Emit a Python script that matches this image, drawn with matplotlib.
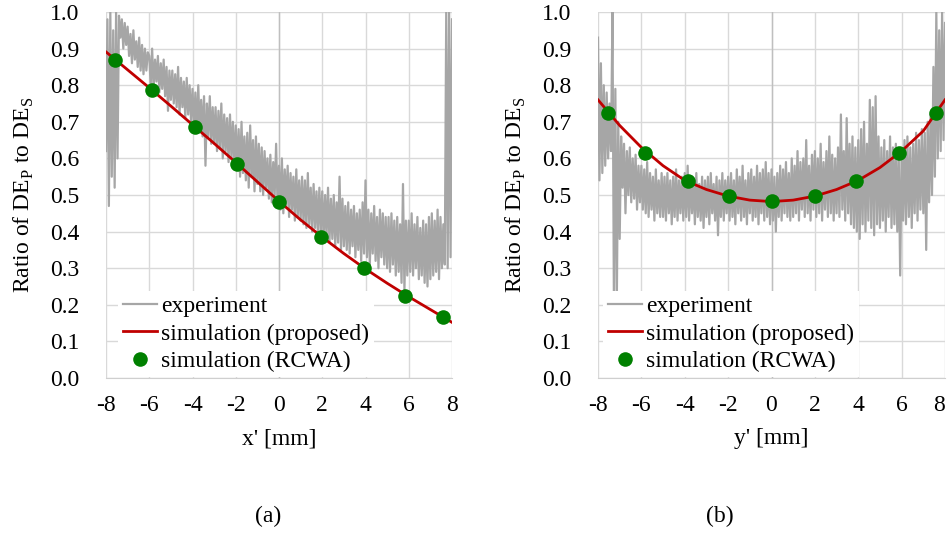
import numpy as np
import matplotlib
matplotlib.use("Agg")
import matplotlib.pyplot as plt

plt.rcParams['font.family'] = ['Liberation Serif', 'DejaVu Serif']
plt.rcParams['mathtext.fontset'] = 'custom'
plt.rcParams['mathtext.rm'] = 'Liberation Serif'
plt.rcParams['font.size'] = 17

# ---- data ----
# experiment (a): ratio vs x', samples evenly spaced from -8 to 8 mm
exp_a = [
    0.62, 0.98, 0.47, 1.00, 0.55, 0.95, 0.52, 1.00, 0.60, 0.99, 0.93, 0.98, 0.90, 0.97, 0.91,  # -8..-7
    0.96, 0.88, 0.94, 0.86, 0.95, 0.87, 0.92, 0.85, 0.93, 0.84, 0.91, 0.83, 0.90, 0.84, 0.89,  # -7..-6
    0.88, 0.80, 0.90, 0.79, 0.87, 0.81, 0.88, 0.78, 0.86, 0.79, 0.87, 0.77, 0.85, 0.73, 0.84,  # -6..-5
    0.76, 0.84, 0.75, 0.83, 0.74, 0.85, 0.72, 0.82, 0.74, 0.81, 0.71, 0.82, 0.72, 0.80, 0.70,  # -5..-4
    0.79, 0.69, 0.78, 0.67, 0.80, 0.68, 0.76, 0.66, 0.77, 0.58, 0.75, 0.66, 0.77, 0.64, 0.74,  # -4..-3
    0.64, 0.74, 0.62, 0.73, 0.63, 0.75, 0.60, 0.72, 0.62, 0.71, 0.59, 0.72, 0.60, 0.70, 0.58,  # -3..-2
    0.69, 0.57, 0.68, 0.55, 0.70, 0.56, 0.66, 0.54, 0.67, 0.52, 0.69, 0.55, 0.65, 0.51, 0.66,  # -2..-1
    0.53, 0.64, 0.51, 0.63, 0.50, 0.62, 0.52, 0.60, 0.49, 0.61, 0.48, 0.59, 0.50, 0.64, 0.47,  # -1..0
    0.58, 0.46, 0.60, 0.45, 0.57, 0.47, 0.58, 0.44, 0.56, 0.46, 0.55, 0.43, 0.57, 0.44, 0.54,  # 0..1
    0.43, 0.55, 0.42, 0.54, 0.41, 0.56, 0.42, 0.52, 0.40, 0.53, 0.41, 0.51, 0.39, 0.52, 0.40,  # 1..2
    0.51, 0.38, 0.50, 0.39, 0.52, 0.37, 0.49, 0.38, 0.50, 0.36, 0.48, 0.37, 0.55, 0.35, 0.49,  # 2..3
    0.36, 0.47, 0.35, 0.48, 0.34, 0.46, 0.36, 0.47, 0.33, 0.45, 0.35, 0.46, 0.32, 0.48, 0.34,  # 3..4
    0.54, 0.33, 0.46, 0.31, 0.45, 0.34, 0.47, 0.32, 0.44, 0.30, 0.46, 0.33, 0.45, 0.31, 0.44,  # 4..5
    0.30, 0.44, 0.29, 0.45, 0.31, 0.43, 0.28, 0.44, 0.29, 0.42, 0.26, 0.53, 0.24, 0.43, 0.28,  # 5..6
    0.43, 0.29, 0.45, 0.28, 0.42, 0.30, 0.44, 0.27, 0.41, 0.28, 0.43, 0.26, 0.42, 0.25, 0.44,  # 6..7
    0.27, 0.45, 0.28, 0.43, 0.29, 0.46, 0.27, 0.44, 0.30, 0.42, 0.31, 1.00, 0.30, 1.00, 0.33, 0.98,  # 7..8
]

# experiment (b): ratio vs y'
exp_b = [
    0.93, 0.54, 0.86, 0.56, 0.80, 0.58, 0.78, 0.60, 0.75, 0.62, 1.00, 0.21, 0.79, 0.20, 0.70,  # -8..-7
    0.38, 0.66, 0.52, 0.64, 0.45, 0.62, 0.50, 0.63, 0.48, 0.60, 0.49, 0.61, 0.46, 0.58, 0.48,  # -7..-6
    0.58, 0.46, 0.57, 0.45, 0.59, 0.44, 0.56, 0.46, 0.55, 0.43, 0.57, 0.45, 0.54, 0.44, 0.56,  # -6..-5
    0.44, 0.55, 0.43, 0.56, 0.45, 0.54, 0.42, 0.55, 0.44, 0.57, 0.43, 0.54, 0.45, 0.55, 0.43,  # -5..-4
    0.56, 0.44, 0.58, 0.43, 0.55, 0.45, 0.54, 0.42, 0.56, 0.44, 0.53, 0.43, 0.55, 0.41, 0.54,  # -4..-3
    0.44, 0.55, 0.42, 0.56, 0.45, 0.53, 0.43, 0.55, 0.39, 0.54, 0.44, 0.56, 0.43, 0.54, 0.45,  # -3..-2
    0.55, 0.43, 0.56, 0.44, 0.54, 0.42, 0.57, 0.45, 0.55, 0.43, 0.58, 0.44, 0.54, 0.42, 0.56,  # -2..-1
    0.45, 0.57, 0.43, 0.55, 0.44, 0.58, 0.42, 0.56, 0.45, 0.57, 0.43, 0.59, 0.44, 0.56, 0.42,  # -1..0
    0.57, 0.43, 0.55, 0.40, 0.56, 0.44, 0.58, 0.43, 0.57, 0.45, 0.59, 0.44, 0.56, 0.43, 0.60,  # 0..1
    0.44, 0.58, 0.45, 0.62, 0.43, 0.59, 0.46, 0.60, 0.44, 0.65, 0.45, 0.58, 0.43, 0.61, 0.46,  # 1..2
    0.62, 0.44, 0.60, 0.45, 0.64, 0.43, 0.59, 0.46, 0.62, 0.44, 0.66, 0.45, 0.61, 0.43, 0.60,  # 2..3
    0.45, 0.63, 0.44, 0.72, 0.46, 0.62, 0.43, 0.71, 0.45, 0.64, 0.42, 0.66, 0.41, 0.63, 0.40,  # 3..4
    0.65, 0.38, 0.68, 0.42, 0.70, 0.40, 0.64, 0.43, 0.76, 0.41, 0.74, 0.39, 0.77, 0.42, 0.66,  # 4..5
    0.41, 0.63, 0.43, 0.65, 0.40, 0.62, 0.44, 0.66, 0.41, 0.63, 0.42, 0.64, 0.40, 0.61, 0.28,  # 5..6
    0.62, 0.43, 0.65, 0.42, 0.66, 0.44, 0.63, 0.41, 0.64, 0.45, 0.67, 0.43, 0.65, 0.46, 0.68,  # 6..7
    0.45, 0.67, 0.35, 0.70, 0.48, 0.72, 0.50, 0.85, 0.55, 1.00, 0.60, 0.95, 0.62, 1.00, 0.65, 0.97,  # 7..8
]

# proposed simulation, sampled at integer positions
sim_pos = [-8, -7, -6, -5, -4, -3, -2, -1, 0, 1, 2, 3, 4, 5, 6, 7, 8]
sim_a = [0.891, 0.842, 0.793, 0.743, 0.692, 0.641, 0.589, 0.536, 0.483,
         0.432, 0.385, 0.340, 0.298, 0.259, 0.222, 0.187, 0.152]
sim_b = [0.760, 0.690, 0.630, 0.580, 0.540, 0.515, 0.497, 0.486, 0.482,
         0.486, 0.497, 0.515, 0.540, 0.575, 0.620, 0.675, 0.760]

# RCWA points
rcwa_x_a = [-7.58, -5.86, -3.87, -1.93, 0.01, 1.94, 3.95, 5.84, 7.60]
rcwa_a = [0.869, 0.787, 0.686, 0.584, 0.482, 0.386, 0.300, 0.224, 0.166]
rcwa_x_b = [-7.55, -5.82, -3.85, -1.95, 0.02, 2.00, 3.90, 5.88, 7.60]
rcwa_b = [0.723, 0.616, 0.538, 0.498, 0.484, 0.498, 0.538, 0.616, 0.723]

xticks = [-8, -6, -4, -2, 0, 2, 4, 6, 8]
yticks = [0.0, 0.1, 0.2, 0.3, 0.4, 0.5, 0.6, 0.7, 0.8, 0.9, 1.0]

GRAY = '#a6a6a6'
RED = '#c00000'
GREEN = '#008000'
GRID = '#d9d9d9'

fig = plt.figure(figsize=(9.49, 5.35), dpi=100)
ax1 = fig.add_axes([106 / 949, 1 - 378 / 535, 346 / 949, 366 / 535])
ax2 = fig.add_axes([598 / 949, 1 - 378 / 535, 347 / 949, 366 / 535])


def draw(ax, exp, sim, rx, ry, xlabel, leg_x):
    xe = np.linspace(-8, 8, len(exp))
    ax.plot(xe, exp, color=GRAY, lw=1.6, label='experiment', zorder=3)
    ax.plot(sim_pos, sim, color=RED, lw=2.0, label='simulation (proposed)', zorder=4)
    ax.plot(rx, ry, 'o', color=GREEN, ms=10.5, mew=0, label='simulation (RCWA)', zorder=5)
    ax.axvline(0, color='#bfbfbf', lw=1.0, zorder=1)

    ax.set_xlim(-8, 8)
    ax.set_ylim(0, 1)
    ax.set_xticks(xticks)
    ax.set_xticklabels([str(t) for t in xticks])
    ax.set_yticks(yticks)
    ax.set_yticklabels([f'{t:.1f}' for t in yticks])
    ax.tick_params(length=0, labelsize=17)
    ax.tick_params(axis='y', pad=19)
    ax.tick_params(axis='x', pad=12)
    ax.grid(True, color=GRID, lw=1.0, zorder=0)
    ax.set_axisbelow(True)
    for s in ['top', 'right', 'left']:
        ax.spines[s].set_visible(False)
    ax.spines['bottom'].set_color('#cfcfcf')
    ax.spines['bottom'].set_zorder(7)

    ax.set_xlabel(xlabel, labelpad=9)
    ax.set_ylabel(r'Ratio of DE$_\mathrm{P}$ to DE$_\mathrm{S}$', labelpad=10)

    leg = ax.legend(loc='lower left', bbox_to_anchor=(leg_x, 0.004), borderaxespad=0.0,
                    borderpad=0.2, handlelength=1.45, handletextpad=0.17,
                    labelspacing=0.24, frameon=True, fancybox=False,
                    framealpha=1, facecolor='white', edgecolor='none', fontsize=17)
    leg.set_zorder(6)


draw(ax1, exp_a, sim_a, rcwa_x_a, rcwa_a, "x' [mm]", 0.035)
draw(ax2, exp_b, sim_b, rcwa_x_b, rcwa_b, "y' [mm]", 0.015)

# keep the last tick label of the right panel inside the figure
ax2.get_xticklabels()[-1].set_horizontalalignment('right')

fig.text(268 / 949, 1 - 516 / 535, '(a)', ha='center', va='center', fontsize=17)
fig.text(720 / 949, 1 - 516 / 535, '(b)', ha='center', va='center', fontsize=17)

fig.savefig('out.png', dpi=100)
